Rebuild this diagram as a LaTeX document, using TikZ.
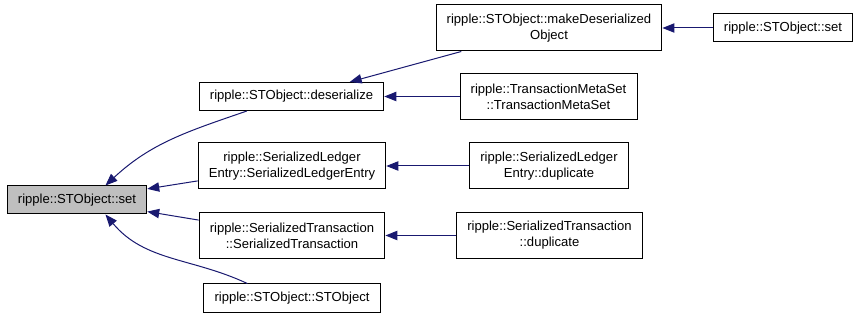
\documentclass[tikz,border=0pt]{standalone}
\usepackage{fontspec}
\setmainfont{Liberation Sans}
\usetikzlibrary{arrows.meta}
\definecolor{callblue}{HTML}{191970}
\definecolor{current}{HTML}{BFBFBF}
\tikzstyle{func}=[draw=black,line width=0.75pt,rectangle,fill=white,align=center,
  font=\fontsize{9.8}{12}\selectfont,inner xsep=8pt,inner ysep=0pt,minimum height=21pt]
\tikzstyle{two}=[minimum height=34.5pt]
\tikzstyle{call}=[-{Triangle[length=9pt,width=7pt]},color=callblue,line width=0.75pt]

\begin{document}
\begin{tikzpicture}[x=0.75pt,y=-0.75pt]
  \useasboundingbox (0,0) rectangle (861,317);

  \node[func,fill=current] (set)    at (77,200)      {ripple::STObject::set};
  \node[func]              (desr)   at (291.5,96.5)  {ripple::STObject::deserialize};
  \node[func,two]          (mdo)    at (549,28)      {ripple::STObject::makeDeserialized\\Object};
  \node[func]              (setr)   at (783,28)      {ripple::STObject::set};
  \node[func,two]          (tms)    at (548.5,96.5)  {ripple::TransactionMetaSet\\::TransactionMetaSet};
  \node[func,two]          (sle)    at (292,166)     {ripple::SerializedLedger\\Entry::SerializedLedgerEntry};
  \node[func,two]          (sledup) at (549,166)     {ripple::SerializedLedger\\Entry::duplicate};
  \node[func,two]          (stx)    at (292,235.5)   {ripple::SerializedTransaction\\::SerializedTransaction};
  \node[func,two]          (stdup)  at (549.5,235.5) {ripple::SerializedTransaction\\::duplicate};
  \node[func]              (sto)    at (292,298)     {ripple::STObject::STObject};

  \path[call] (setr) edge (mdo)
  	(tms) edge (desr)
  	(mdo.195) edge (desr.14)
  	(sledup) edge (sle)
  	(stdup) edge (stx)
  	(sle) edge (set)
  	(stx) edge (set)
  	(desr.198) edge[out=199,in=43] (set.27)
  	(sto.162) edge[out=155,in=-50] (set.-27);
\end{tikzpicture}
\end{document}
